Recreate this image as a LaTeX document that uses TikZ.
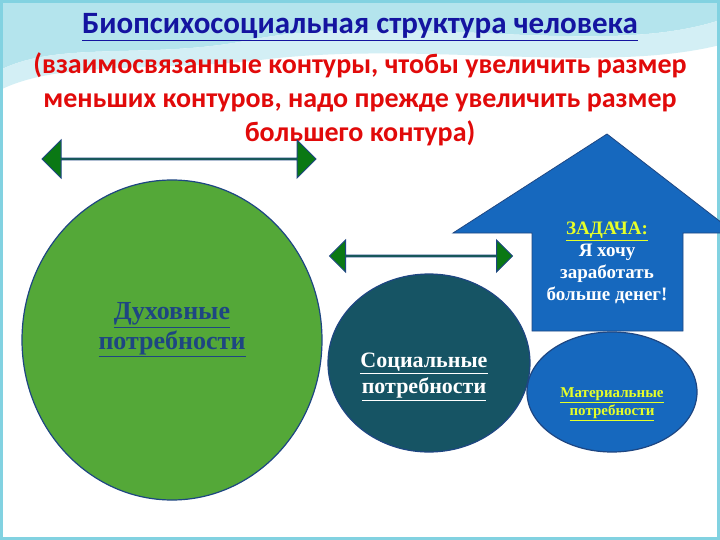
\documentclass[tikz,border=0pt]{standalone}
\usepackage{fontspec}
\setmainfont{Carlito}
\newfontfamily\serifcyr{Liberation Serif}
\usetikzlibrary{shapes.arrows,shapes.geometric}
\newcommand\myul[1]{\underline{#1}}
\definecolor{titleblue}{RGB}{20,20,160}
\definecolor{redtxt}{RGB}{225,10,10}
\definecolor{bigGreen}{RGB}{84,168,56}
\definecolor{socTeal}{RGB}{22,84,100}
\definecolor{matBlue}{RGB}{22,104,190}
\definecolor{edgeBlue}{RGB}{30,70,130}
\definecolor{arrGreen}{RGB}{10,120,20}
\definecolor{yel}{RGB}{230,255,40}
\definecolor{wave}{RGB}{130,210,225}
\tikzset{
  circ/.style={ellipse, draw=edgeBlue, line width=1.2pt, inner sep=0pt},
  ctext/.style={align=center},
  dbl/.style={double arrow, draw=edgeBlue, fill=arrGreen, line width=1pt, inner sep=0pt, minimum height=#1},
}
\begin{document}
\begin{tikzpicture}[x=1pt,y=-1pt]
\fill[white] (0,0) rectangle (720,540);
\useasboundingbox (0,0) rectangle (720,540);
% top wave decoration
\fill[wave!60] (0,0) -- (720,0) -- (720,20) .. controls (600,60) and (400,10) .. (250,40) .. controls (150,60) and (60,40) .. (0,70) -- cycle;
\fill[wave!35] (0,70) .. controls (60,40) and (150,60) .. (250,40) .. controls (400,10) and (600,60) .. (720,20) -- (720,45) .. controls (600,75) and (420,40) .. (260,60) .. controls (160,72) and (60,60) .. (0,90) -- cycle;
\draw[wave, line width=3pt] (1.5,1.5) rectangle (718.5,538.5);
% title
\node (title) at (360,27) {\fontsize{31}{36}\selectfont\bfseries\color{titleblue}\myul{Биопсихосоциальная структура человека}};
\node[align=center, font=\fontsize{28}{34}\selectfont\bfseries, text=redtxt] (sub) at (360,99) {(взаимосвязанные контуры, чтобы увеличить размер\\меньших контуров, надо прежде увеличить размер\\большего контура)};
% house arrow
\draw[fill=matBlue, draw=edgeBlue, line width=0.8pt] (532,331) -- (532,233) -- (453,233) -- (607,134) -- (735,233) -- (683,233) -- (683,331) -- cycle;
\node[ctext, text=white, font=\serifcyr\bfseries\fontsize{19}{22}\selectfont] (task) at (607,263) {{\color{yel}\myul{ЗАДАЧА:}}\\Я хочу\\заработать\\больше денег!};
% circles
\node[circ, fill=bigGreen, minimum width=300pt, minimum height=320pt] (spirit) at (172,340) {};
\node[circ, fill=socTeal, minimum width=202pt, minimum height=178pt] (social) at (429,363) {};
\node[circ, fill=matBlue, minimum width=170pt, minimum height=120pt] (mat) at (612,392) {};
\node[ctext, text=edgeBlue, font=\serifcyr\bfseries\fontsize{26}{30}\selectfont] at (172,330) {\myul{Духовные}\\\myul{потребности}};
\node[ctext, text=white, font=\serifcyr\bfseries\fontsize{22}{26}\selectfont] at (424,377) {\myul{Социальные}\\\myul{потребности}};
\node[ctext, text=yel, font=\serifcyr\bfseries\fontsize{15}{18}\selectfont] at (612,404) {\myul{Материальные}\\\myul{потребности}};
% double arrows
\node[dbl=274pt, minimum width=38pt, double arrow head extend=12pt] (a1) at (179,159) {};
\node[dbl=183pt, minimum width=32pt, double arrow head extend=10pt] (a2) at (421,256) {};
\end{tikzpicture}
\end{document}
